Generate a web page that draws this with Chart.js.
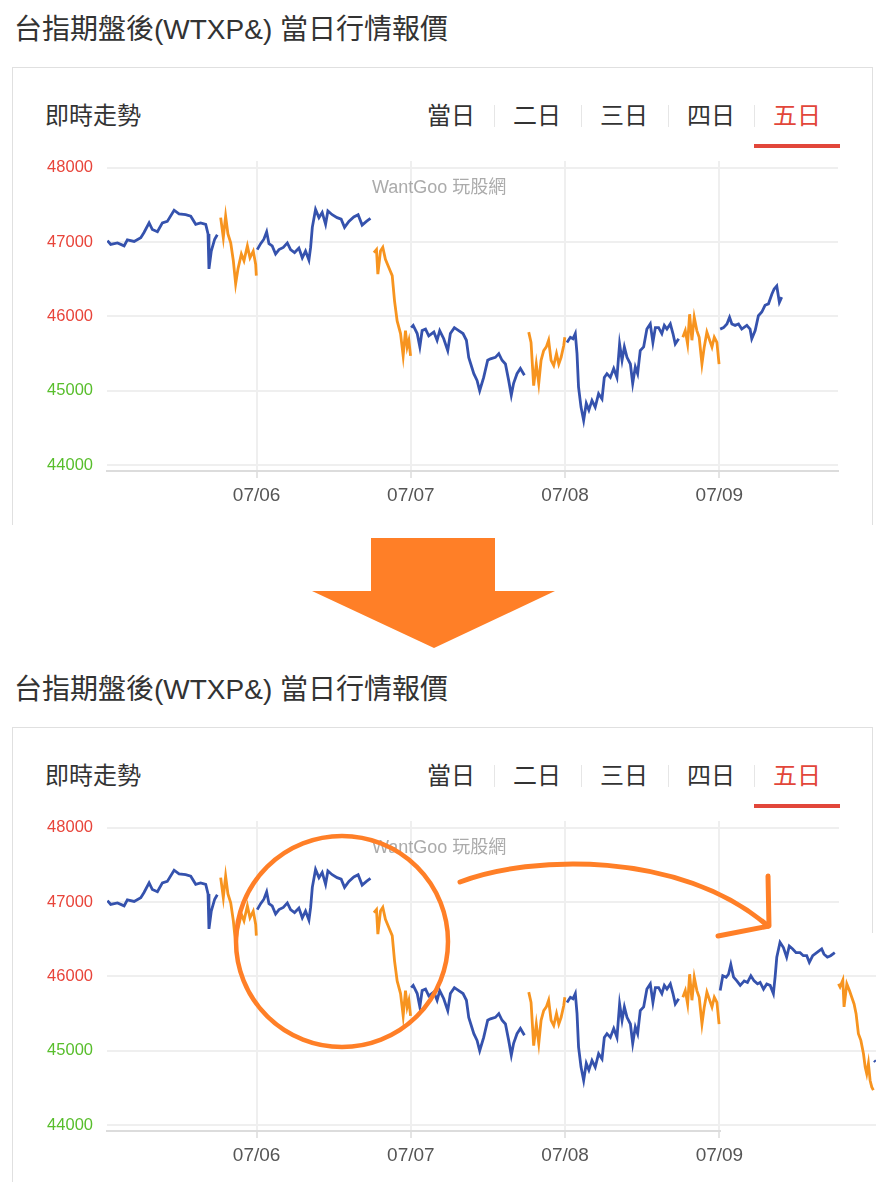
<!DOCTYPE html>
<html>
<head>
<meta charset="utf-8">
<script src="https://cdn.jsdelivr.net/npm/chart.js@4.4.1/dist/chart.umd.min.js"></script>
<style>
  html, body { margin: 0; padding: 0; background: #fff; }
  body { width: 876px; height: 1182px; overflow: hidden; position: relative;
         font-family: "Liberation Sans", Arial, "Noto Sans CJK TC", sans-serif; }
  .panel { position: absolute; left: 0; width: 876px; height: 525px; }
  .title { position: absolute; left: 14px; top: 11px; font-size: 28px; line-height: 38px; color: #333; white-space: nowrap; }
  .card-top { position: absolute; left: 12px; top: 67px; width: 861px; height: 0; border-top: 1px solid #e0e0e0; }
  .card-left { position: absolute; left: 12px; top: 67px; width: 0; border-left: 1px solid #e0e0e0; }
  .card-right { position: absolute; left: 872px; top: 67px; width: 0; border-left: 1px solid #e0e0e0; z-index: 4; }
  .sub { position: absolute; left: 45px; top: 100px; font-size: 24px; line-height: 32px; color: #333; }
  .tab { position: absolute; top: 100px; width: 86px; text-align: center; font-size: 24px; line-height: 32px; color: #333; }
  .tab.on { color: #e2463a; }
  .sep { position: absolute; top: 105px; width: 0; height: 22px; border-left: 1px solid #e6e6e6; }
  .bar { position: absolute; left: 754px; top: 144px; width: 86px; height: 4px; background: #e2463a; }
  .mark { position: absolute; left: 372px; top: 176px; font-size: 18px; line-height: 22px; color: #ababab; white-space: nowrap; z-index: 3; }
  canvas { position: absolute; left: 0; top: 137px; }
  .patch { position: absolute; background: #fff; z-index: 2; }
  svg { position: absolute; left: 0; top: 0; z-index: 6; pointer-events: none; }
</style>
</head>
<body>

<div class="panel" style="top:0">
  <div class="title">台指期盤後(WTXP&amp;) 當日行情報價</div>
  <div class="card-top"></div>
  <div class="card-left" style="height:458px"></div>
  <div class="card-right" style="height:458px"></div>
  <div class="sub">即時走勢</div>
  <div class="tab" style="left:408px">當日</div>
  <div class="sep" style="left:494px"></div>
  <div class="tab" style="left:494px">二日</div>
  <div class="sep" style="left:581px"></div>
  <div class="tab" style="left:581px">三日</div>
  <div class="sep" style="left:668px"></div>
  <div class="tab" style="left:668px">四日</div>
  <div class="sep" style="left:754px"></div>
  <div class="tab on" style="left:754px">五日</div>
  <div class="bar"></div>
  <canvas id="chart1" width="876" height="388"></canvas>
  <div class="mark">WantGoo 玩股網</div>
</div>

<div class="panel" style="top:660px">
  <div class="title">台指期盤後(WTXP&amp;) 當日行情報價</div>
  <div class="card-top"></div>
  <div class="card-left" style="height:460px"></div>
  <div class="card-right" style="height:206px"></div>
  <div class="sub">即時走勢</div>
  <div class="tab" style="left:408px">當日</div>
  <div class="sep" style="left:494px"></div>
  <div class="tab" style="left:494px">二日</div>
  <div class="sep" style="left:581px"></div>
  <div class="tab" style="left:581px">三日</div>
  <div class="sep" style="left:668px"></div>
  <div class="tab" style="left:668px">四日</div>
  <div class="sep" style="left:754px"></div>
  <div class="tab on" style="left:754px">五日</div>
  <div class="bar"></div>
  <canvas id="chart2" width="1040" height="388"></canvas>
  <div class="patch" style="left:839px; top:150px; width:40px; height:123px"></div>
  <div class="patch" style="left:721px; top:469px; width:160px; height:5px"></div>
  <div class="mark">WantGoo 玩股網</div>
</div>

<svg width="876" height="1182" viewBox="0 0 876 1182">
  <polygon points="371,538 495,538 495,591 555,591 434,648 312,591 371,591" fill="#ff7f27"/>
  <ellipse cx="342" cy="941.5" rx="106" ry="105.5" fill="none" stroke="#ff7f27" stroke-width="4.5"/>
  <path d="M460,882 C530,855 680,850 768,926" fill="none" stroke="#ff7f27" stroke-width="5" stroke-linecap="round"/>
  <path d="M768,876 L769,926 L718,936" fill="none" stroke="#ff7f27" stroke-width="5" stroke-linecap="round" stroke-linejoin="round"/>
</svg>

<script>
// x values are day-of-month positions on the 5-day axis (07/05 .. 07/09)
const xTickDays = [6, 7, 8, 9];
const xTickLabels = ['07/06', '07/07', '07/08', '07/09'];
const yTicks = [44000, 45000, 46000, 47000, 48000];

const night1T = [5.033,5.054,5.098,5.141,5.162,5.206,5.249,5.270,5.303,5.324,5.357,5.389,5.421,5.465,5.497,5.540,5.573,5.605,5.637,5.670,5.685,5.691,5.706,5.728,5.745];
const night1P = [47020,46970,46990,46950,47030,47010,47060,47130,47260,47170,47140,47260,47280,47430,47380,47370,47350,47240,47260,47240,47110,46640,46880,47040,47100];

const day1T = [5.767,5.784,5.799,5.814,5.832,5.849,5.864,5.879,5.901,5.918,5.940,5.957,5.978,5.994,5.998];
const day1P = [47330,47060,47350,47110,46990,46750,46440,46640,46840,46750,46950,46790,46880,46700,46550];

const night2T = [6.004,6.026,6.047,6.065,6.080,6.101,6.123,6.145,6.173,6.199,6.220,6.246,6.274,6.296,6.317,6.339,6.350,6.361,6.382,6.404,6.425,6.447,6.462,6.490,6.522,6.548,6.570,6.598,6.630,6.658,6.684,6.712,6.738];
const night2P = [46900,46980,47040,47140,46980,46950,46840,46900,46930,46990,46900,46860,46920,46790,46880,46760,46930,47200,47440,47330,47400,47240,47420,47370,47330,47310,47200,47280,47340,47370,47230,47280,47320];

const day2T = [6.760,6.777,6.786,6.803,6.818,6.835,6.857,6.879,6.894,6.911,6.933,6.950,6.965,6.976,6.987,6.998];
const day2P = [46860,46900,46570,46880,46930,46770,46660,46550,46210,45940,45770,45470,45810,45590,45680,45470];

const night3T = [7.002,7.015,7.041,7.058,7.073,7.095,7.116,7.149,7.170,7.187,7.213,7.239,7.256,7.282,7.310,7.338,7.360,7.375,7.408,7.429,7.446,7.472,7.498,7.516,7.548,7.570,7.591,7.613,7.634,7.651,7.666,7.688,7.710,7.736];
const night3P = [45850,45880,45770,45590,45810,45830,45740,45790,45680,45810,45700,45540,45770,45850,45810,45770,45680,45450,45230,45140,45000,45180,45410,45430,45450,45500,45410,45360,45140,44940,45100,45230,45300,45210];

const day3T = [7.764,7.779,7.796,7.813,7.829,7.844,7.861,7.878,7.893,7.909,7.926,7.944,7.959,7.974,7.991,7.998];
const day3P = [45790,45650,45070,45360,45100,45410,45540,45590,45680,45410,45340,45500,45360,45450,45610,45720];

const night4T = [8.012,8.034,8.051,8.066,8.077,8.087,8.103,8.120,8.137,8.154,8.174,8.195,8.217,8.239,8.254,8.271,8.293,8.315,8.336,8.353,8.369,8.384,8.401,8.423,8.438,8.455,8.470,8.487,8.509,8.530,8.552,8.569,8.585,8.606,8.627,8.643,8.660,8.682,8.699,8.714,8.736];
const night4P = [45650,45720,45700,45770,45500,45050,44780,44600,44830,44740,44870,44780,44960,44890,45180,45230,45180,45300,45180,45630,45410,45590,45450,45360,45100,45320,45230,45540,45590,45830,45900,45650,45850,45850,45770,45880,45830,45900,45770,45630,45700];

const day4T = [8.763,8.779,8.794,8.807,8.822,8.837,8.854,8.869,8.887,8.902,8.919,8.937,8.952,8.967,8.984,8.998];
const day4P = [45720,45810,45630,46030,45680,45990,45810,45720,45360,45590,45790,45680,45590,45720,45650,45360];

const night5T = [9.005,9.027,9.049,9.066,9.081,9.102,9.124,9.145,9.178,9.199,9.210,9.232,9.253,9.275,9.296,9.318,9.340,9.355,9.372,9.389,9.404];
const night5P = [45830,45850,45900,45990,45900,45880,45900,45830,45880,45830,45700,45810,46010,46060,46150,46170,46300,46370,46410,46190,46260];

// edited lower picture: the 07/09 part is replaced by a later stretch
const night5bT = [9.005,9.022,9.044,9.059,9.074,9.092,9.113,9.135,9.161,9.182,9.204,9.225,9.247,9.264,9.286,9.307,9.329,9.350,9.361,9.372,9.393,9.415,9.436,9.453,9.475,9.497,9.523,9.544,9.566,9.583,9.605,9.631,9.663,9.678,9.700,9.721,9.748];
const night5bP = [45810,46010,45990,46030,46160,45990,45940,45880,45940,45920,46010,45940,45900,45920,45830,45900,45880,45770,45990,46260,46460,46390,46260,46410,46370,46320,46320,46280,46280,46190,46280,46320,46370,46300,46260,46280,46320];

const day5bT = [9.772,9.782,9.800,9.808,9.826,9.843,9.858,9.873,9.886,9.901,9.917,9.934,9.945,9.955,9.966,9.977,9.988,9.998];
const day5bP = [45900,45860,45950,45590,45900,45810,45720,45630,45500,45230,45140,44960,44780,44690,44830,44600,44510,44470];

const night6bT = [10.003, 10.012];
const night6bP = [44870, 44850];

const BLUE = '#3552ad';
const ORANGE = '#f7941f';
const RED = '#e8443a';
const GREEN = '#58be2c';

const pts = (t, p) => t.map((x, i) => ({ x: x, y: p[i] }));

function makeChart(id, segs, xMax, rightPad) {
  const canvas = document.getElementById(id);
  return new Chart(canvas, {
    type: 'line',
    data: {
      datasets: segs.map(s => ({
        data: pts(s[0], s[1]),
        borderColor: s[2],
        borderWidth: 2.8,
        pointRadius: 0,
        tension: 0,
        fill: false
      }))
    },
    options: {
      responsive: false,
      animation: false,
      events: [],
      layout: { padding: { top: 10, right: rightPad, left: 0, bottom: 0 } },
      plugins: { legend: { display: false }, tooltip: { enabled: false } },
      scales: {
        x: {
          type: 'linear',
          min: 5.03,
          max: xMax,
          afterBuildTicks: s => { s.ticks = xTickDays.map(v => ({ value: v })); },
          afterFit: s => { s.height = 54; },
          grid: { color: '#efefef', lineWidth: 2, tickLength: 7, tickColor: '#e4e4e4' },
          border: { display: true, color: '#dcdcdc', width: 2 },
          ticks: {
            callback: v => xTickLabels[xTickDays.indexOf(v)],
            color: '#555',
            font: { size: 19, family: '"Liberation Sans", Arial, sans-serif' },
            padding: 6,
            maxRotation: 0,
            autoSkip: false
          }
        },
        y: {
          min: 43920,
          max: 48094,
          afterBuildTicks: s => { s.ticks = yTicks.map(v => ({ value: v })); },
          afterFit: s => { s.width = 107; },
          grid: { color: '#efefef', lineWidth: 2, drawTicks: false },
          border: { display: false },
          ticks: {
            callback: v => String(v),
            color: c => (c.tick && c.tick.value >= 46000) ? RED : GREEN,
            font: { size: 16.5, family: '"Liberation Sans", Arial, sans-serif' },
            padding: 14
          }
        }
      }
    }
  });
}

makeChart('chart1', [
  [night1T, night1P, BLUE], [day1T, day1P, ORANGE],
  [night2T, night2P, BLUE], [day2T, day2P, ORANGE],
  [night3T, night3P, BLUE], [day3T, day3P, ORANGE],
  [night4T, night4P, BLUE], [day4T, day4P, ORANGE],
  [night5T, night5P, BLUE]
], 9.769, 38);

makeChart('chart2', [
  [night1T, night1P, BLUE], [day1T, day1P, ORANGE],
  [night2T, night2P, BLUE], [day2T, day2P, ORANGE],
  [night3T, night3P, BLUE], [day3T, day3P, ORANGE],
  [night4T, night4P, BLUE], [day4T, day4P, ORANGE],
  [night5bT, night5bP, BLUE], [day5bT, day5bP, ORANGE],
  [night6bT, night6bP, BLUE]
], 10.819, 40);
</script>
</body>
</html>
